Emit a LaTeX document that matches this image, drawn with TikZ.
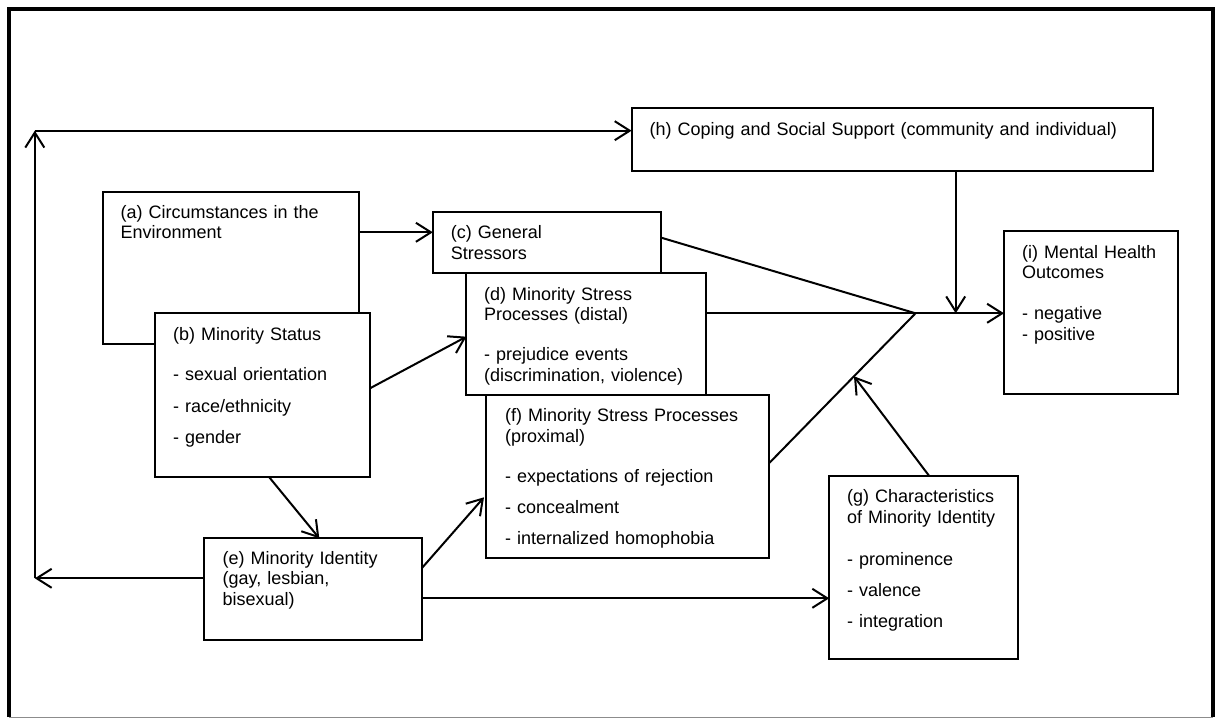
\documentclass[tikz,border=0pt]{standalone}
\usepackage{fontspec}
\setmainfont{Liberation Sans}
\usetikzlibrary{arrows.meta,calc}

\begin{document}
\begin{tikzpicture}[x=1pt,y=-1pt,
  box/.style={draw, line width=2pt, fill=white, inner sep=0pt, outer sep=0pt, anchor=north west},
  txt/.style={anchor=base west, inner sep=0pt, text width=480pt, align=left,
              font=\fontsize{18}{20.5}\selectfont},
  link/.style={line width=2pt},
  arr/.style={link, -{Straight Barb[length=15pt,width=19pt]}},
]
\useasboundingbox (0,0) rectangle (1220,719);

% outer frame
\draw[line width=4pt] (9,717) -- (9,9.5) -- (1213,9.5) -- (1213,717);
\draw[line width=1pt, black!45] (9,717.5) -- (1213,717.5);

% boxes
\node[box, minimum width=255.5pt, minimum height=152pt]   (a) at (103,192)   {};
\node[box, minimum width=215pt,   minimum height=163.4pt] (b) at (155,313.3) {};
\node[box, minimum width=228.5pt, minimum height=61pt]    (c) at (432.8,212.3) {};
\node[box, minimum width=239.6pt, minimum height=121.7pt] (d) at (466.4,273.3) {};
\node[box, minimum width=283pt,   minimum height=163.3pt] (f) at (486,395)   {};
\node[box, minimum width=217.4pt, minimum height=101.7pt] (e) at (204.3,538.3) {};
\node[box, minimum width=188.6pt, minimum height=183pt]   (g) at (829.2,476) {};
\node[box, minimum width=521pt,   minimum height=62.7pt]  (h) at (631.6,108.3) {};
\node[box, minimum width=174.3pt, minimum height=163.3pt] (i) at (1004,230.7) {};

% box texts
\node[txt] (a-t) at (120.5,218.3) {(a) Circumstances in the\\Environment};
\node[txt] (b-t) at (173,340) {(b) Minority Status\\[20.2pt]- sexual orientation\\[11pt]- race/ethnicity\\[11pt]- gender};
\node[txt] (c-t) at (450.6,239) {(c) General\\Stressors};
\node[txt] (d-t) at (484,300) {(d) Minority Stress\\Processes (distal)\\[19.5pt]- prejudice events\\(discrimination, violence)};
\node[txt] (f-t) at (505,421.7) {(f) Minority Stress Processes\\(proximal)\\[20pt]- expectations of rejection\\[10.5pt]- concealment\\[10.5pt]- internalized homophobia};
\node[txt] (e-t) at (222.5,564) {(e) Minority Identity\\(gay, lesbian,\\bisexual)};
\node[txt] (g-t) at (847,502.7) {(g) Characteristics\\of Minority Identity\\[22pt]- prominence\\[10.5pt]- valence\\[10.5pt]- integration};
\node[txt] (h-t) at (649.4,136) {(h) Coping and Social Support (community and individual)};
\node[txt] (i-t) at (1022,258.3) {(i) Mental Health\\Outcomes\\[20.5pt]- negative\\- positive};

% junction and loop corners
\coordinate (J)  at (915.5,313.3);
\coordinate (L1) at (34.8,578.3);
\coordinate (L2) at (34.8,130.7);
\coordinate (F0) at ([shift={(0,68.3)}]f.north east);

% connectors
\draw[arr] ([shift={(0,40.3)}]a.north east) -- ([shift={(0,20)}]c.north west);
\draw[arr] ([shift={(0,75)}]b.north east) -- ([shift={(0,63.4)}]d.north west);
\draw[arr] ([shift={(113.8,0)}]b.south west) -- ([shift={(115,0)}]e.north west);
\draw[arr] ([shift={(0,30)}]e.north east) -- ([shift={(-2,102.3)}]f.north west);
\draw[arr] ([shift={(0,60)}]e.north east) -- ([shift={(0,122.3)}]g.north west);
\draw[arr] ([shift={(0,40)}]e.north west) -- (L1);
\draw[arr] (L1) -- (L2);
\draw[arr] (L2) -- ([shift={(0,22.4)}]h.north west);
\draw[link] ([shift={(0,25.4)}]c.north east) -- (J);
\draw[link] (F0) -- (J);
\draw[arr] ([shift={(0,40)}]d.north east) -- ([shift={(0,82.6)}]i.north west);
\draw[arr] ([shift={(324.1,0)}]h.south west) -- ([shift={(324.1,0)}]h.south west |- J);
\draw[arr] ([shift={(100,0)}]g.north west) -- ($(F0)!0.58!(J)$);
\end{tikzpicture}
\end{document}
